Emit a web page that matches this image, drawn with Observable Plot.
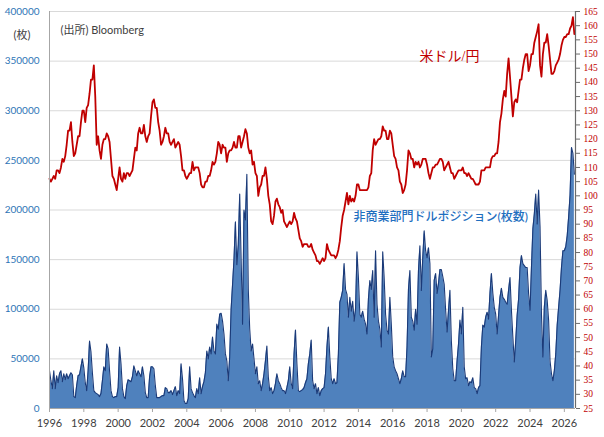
<!DOCTYPE html>
<html>
<head>
<meta charset="utf-8">
<script src="https://cdn.jsdelivr.net/npm/d3@7"></script>
<script src="https://cdn.jsdelivr.net/npm/@observablehq/plot@0.6"></script>
<style>
  html, body { margin: 0; padding: 0; background: #fff; }
  #chart { width: 604px; height: 437px; }
</style>
</head>
<body>
<div id="chart"></div>
<script>
// Monthly series, Jan 1996 onward
const startYear = 1996;

// USD/JPY (right axis, 円)
const usdjpy = [
  106,105,106,107,106,109,109,108,110,113,112,114,
  118,123,123,126,119,114,115,118,121,121,126,130,
  130,126,131,132,136,141,141,146,135,118,121,116,
  113,118,120,120,122,121,119,113,107,106,104,102,
  106,110,106,105,108,106,108,108,107,108,109,113,
  117,116,122,124,122,122,125,121,119,121,122,128,
  133,134,131,131,126,123,118,119,121,124,122,122,
  119,118,119,120,117,118,119,118,114,109,109,107,
  106,107,108,108,112,109,110,110,110,108,104,103,
  103,105,105,107,107,109,112,111,112,115,119,118,
  115,118,117,117,112,115,116,116,117,119,117,117,
  121,121,117,119,121,123.5,122,117,115,116,111,112,
  108,107,100,103,104,107,107,110,106,100,97,91,
  90,93,98,99,97,96,94,95,91,90,89,90,
  91,90,91,94,92,91,88,85,84,82,83,83,
  83,82,82,83,81,80,79,77,77,76,77,78,
  77,78,83,81,80,79,79,79,78,79,81,84,
  89,93,95,98,101,97,100,98,99,98,100,104,
  104,102,102,102,102,102,102,103,107,108,116,120,
  118,119,120,120,121,124.5,123,123,120,120,123,122,
  118,114,113,110,109,105,104,101,102,104,109,116,
  115,113,113,110,112,111,112,110,111,113,113,113,
  111,108,106,108,110,110,111,111,112,113,113,112,
  109,110,111,112,110,108,108,106,107,108,109,109,
  109,110,108,108,107,108,107,106,106,105,104,104,
  104,105,109,109,109,110,110,110,110,113,114,114,
  115,115,119,126,129,134,137,135,143,148.5,142,135,
  128,133,134,133,137,141,141,145,148,150,150,144,
  146,150,150,154,156,158,160.5,146,142,150,154,154,
  157,153,148,143,143,144,146,147,148,150,153,155,
  156,156,157,157,159,160,163,157
];

// 非商業部門ポジション (thousand contracts, left axis)
const positionsK = [
  38,28,20,38,20,33,26,35,38,27,35,29,
  35,30,33,36,34,12,11,23,33,34,42,50,
  41,26,18,38,68,57,36,18,16,15,14,12,
  15,28,42,38,65,60,38,18,12,11,12,12,
  21,62,45,20,12,10,23,29,28,27,32,43,
  38,33,38,35,32,42,33,16,11,11,32,42,
  42,40,23,11,11,11,12,13,13,21,20,16,
  16,18,14,18,22,13,18,15,45,30,8,5,
  5,10,42,20,16,13,11,20,15,31,15,22,
  27,36,58,50,62,55,72,58,55,85,80,95,
  96,88,75,55,48,28,52,100,125,150,188,145,
  165,216,150,85,200,190,236,120,80,58,65,50,
  35,42,25,28,18,25,35,48,63,32,18,21,
  15,18,25,35,28,25,21,18,18,15,21,28,
  42,25,20,55,79,45,18,17,18,19,21,26,
  30,45,55,69,28,20,25,15,21,13,18,20,
  21,35,62,82,52,30,25,30,25,26,55,107,
  112,119,146,120,115,92,112,98,108,88,100,158,
  132,95,92,98,90,85,75,110,129,120,139,92,
  159,105,88,80,62,158,132,95,79,75,112,85,
  52,42,38,35,30,25,30,38,32,32,62,120,
  139,92,88,79,100,85,139,164,119,152,179,159,
  152,162,146,52,60,129,136,116,126,140,140,133,
  125,99,77,99,119,68,40,28,28,48,65,89,
  75,102,42,30,31,23,27,26,31,21,20,15,
  21,23,62,84,82,92,97,90,116,136,116,102,
  95,75,94,112,121,112,110,107,105,119,132,99,
  72,47,68,94,110,142,154,146,144,142,142,116,
  99,142,181,196,216,186,220,183,95,52,102,119,
  109,89,48,35,28,38,55,84,102,119,142,159,
  159,163,174,193,215,263,257,236
];

const leftTicks = [0,50000,100000,150000,200000,250000,300000,350000,400000];
const rightTicks = d3.range(25, 166, 5);
const xTicks = d3.range(1996, 2027, 2);

const leftMax = 400000, rMin = 25, rMax = 165;
const toLeft = v => (v - rMin) / (rMax - rMin) * leftMax;
const fromLeft = y => rMin + y / leftMax * (rMax - rMin);

const rows = usdjpy.map((v, i) => ({
  t: startYear + i / 12,
  jpy: toLeft(v),
  pos: positionsK[i] * 1000
}));

const xEnd = 2026.65;
const font = "Lato, 'Noto Sans CJK JP', sans-serif";
const serif = "'Liberation Serif', 'Noto Sans CJK JP', serif";

const chart = Plot.plot({
  width: 604,
  height: 437,
  marginLeft: 49,
  marginRight: 29,
  marginTop: 11,
  marginBottom: 29,
  style: {fontFamily: font, background: "#fff", overflow: "visible"},
  x: {domain: [1996, xEnd]},
  y: {domain: [0, leftMax]},
  marks: [
    Plot.ruleY(leftTicks.slice(1), {stroke: "#d9d9d9", strokeWidth: 1}),
    Plot.areaY(rows, {x: "t", y: "pos", fill: "#4f81bd", fillOpacity: 1}),
    Plot.lineY(rows, {x: "t", y: "pos", stroke: "#1b3a78", strokeWidth: 1.1}),
    Plot.lineY(rows, {x: "t", y: "jpy", stroke: "#c00000", strokeWidth: 1.8}),
    Plot.ruleX([1996], {stroke: "#a6a6a6", strokeWidth: 1}),
    Plot.ruleX([xEnd], {stroke: "#6b6b6b", strokeWidth: 1.2}),
    Plot.ruleY([0], {stroke: "#a6a6a6", strokeWidth: 1}),
    Plot.axisY({
      ticks: leftTicks, tickFormat: d3.format("d"), tickSize: 0, tickPadding: 10,
      fill: "#2e75b6", fontSize: 10, fontFamily: font, label: null
    }),
    Plot.axisY({
      anchor: "right", ticks: rightTicks.map(toLeft),
      tickFormat: d => String(Math.round(fromLeft(d))),
      tickSize: 4, tickPadding: 4, stroke: "#6b6b6b",
      fill: "#c00000", fontSize: 9.5, fontFamily: serif, label: null
    }),
    Plot.axisX({
      ticks: xTicks, tickFormat: d3.format("d"), tickSize: 4, tickPadding: 7,
      stroke: "#a6a6a6", fill: "#404040", fontSize: 11, fontFamily: font, label: null
    }),
    Plot.text(["(出所) Bloomberg"], {
      frameAnchor: "top-left", dx: 11, dy: 15, textAnchor: "start",
      fill: "#404040", fontSize: 11, fontFamily: font
    }),
    Plot.text(["(枚)"], {
      frameAnchor: "top-left", dx: -36, dy: 20, textAnchor: "start",
      fill: "#404040", fontSize: 11, fontFamily: font
    }),
    Plot.text(["米ドル/円"], {
      frameAnchor: "top-left", dx: 370, dy: 40, textAnchor: "start",
      fill: "#c00000", fontSize: 14, fontFamily: serif
    }),
    Plot.text(["非商業部門ドルポジション(枚数)"], {
      frameAnchor: "top-left", dx: 304, dy: 201, textAnchor: "start",
      fill: "#1f6fbf", fontSize: 12, fontWeight: 500, fontFamily: font
    })
  ]
});

document.getElementById("chart").appendChild(chart);
</script>
</body>
</html>
